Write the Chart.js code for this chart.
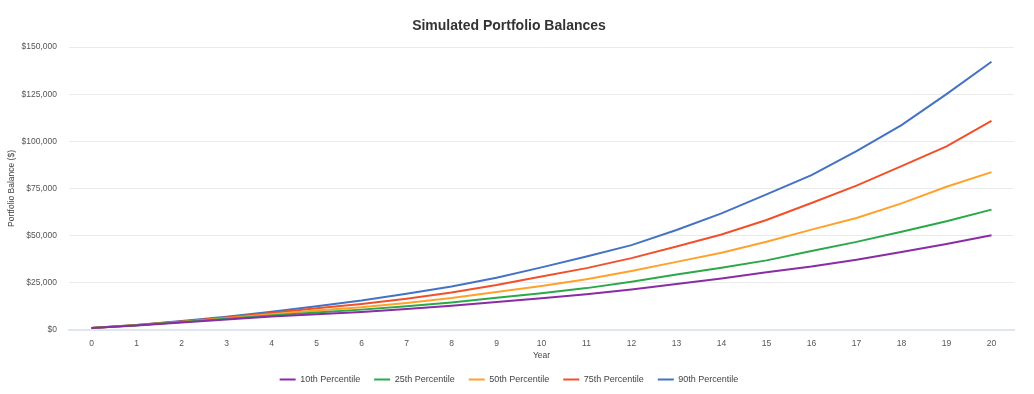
<!DOCTYPE html>
<html>
<head>
<meta charset="utf-8">
<script src="https://cdn.jsdelivr.net/npm/chart.js@4/dist/chart.umd.min.js"></script>
<style>
  html, body { margin: 0; padding: 0; background: #fff; }
  #wrap { width: 1034px; height: 394px; }
</style>
</head>
<body>
<div id="wrap"><canvas id="myChart"></canvas></div>
<script>
var years = [0, 1, 2, 3, 4, 5, 6, 7, 8, 9, 10, 11, 12, 13, 14, 15, 16, 17, 18, 19, 20];

var p10 = [1000, 2400, 4000, 5600, 7100, 8300, 9600, 11100, 12800, 14900, 16800, 19000, 21500, 24400, 27300, 30600, 33600, 37200, 41400, 45600, 50200];
var p25 = [1000, 2500, 4200, 5900, 7700, 9300, 10800, 12600, 14600, 17100, 19500, 22200, 25600, 29400, 33000, 36900, 41900, 46700, 52100, 57600, 63800];
var p50 = [1000, 2500, 4300, 6200, 8300, 10300, 12000, 14300, 16900, 20200, 23300, 26900, 31300, 36100, 40900, 46800, 53200, 59400, 67100, 75900, 83700];
var p75 = [1000, 2600, 4500, 6600, 9000, 11500, 13800, 16600, 19900, 23800, 28300, 32800, 38100, 44300, 50600, 58300, 67300, 76500, 86900, 97300, 110800];
var p90 = [1000, 2700, 4800, 7000, 9700, 12600, 15600, 19200, 23100, 27700, 33200, 39000, 45000, 53000, 61800, 71900, 82100, 94800, 108600, 125000, 142200];

var seriesNames = ["10th Percentile", "25th Percentile", "50th Percentile", "75th Percentile", "90th Percentile"];
var seriesColors = ["#8a2ca3", "#2ba84a", "#ffa12b", "#f0502a", "#4472c4"];
var seriesData = [p10, p25, p50, p75, p90];

var yTicks = { min: 0, max: 150000, step: 25000 };

Chart.defaults.font.family = "'Liberation Sans', Arial, sans-serif";
Chart.defaults.color = "#555";

var datasets = seriesNames.map(function (name, i) {
  return {
    label: name,
    data: seriesData[i],
    borderColor: seriesColors[i],
    backgroundColor: seriesColors[i],
    borderWidth: 2,
    pointRadius: 0,
    pointStyle: "line",
    tension: 0,
    fill: false
  };
});

new Chart("myChart", {
  type: "line",
  data: {
    labels: years,
    datasets: datasets
  },
  options: {
    responsive: true,
    maintainAspectRatio: false,
    animation: false,
    layout: {
      padding: { left: 4, right: 20, top: 6, bottom: 0 }
    },
    plugins: {
      title: {
        display: true,
        text: "Simulated Portfolio Balances",
        color: "#333",
        font: { size: 14, weight: "bold" },
        padding: { top: 11.6, bottom: 12.6 }
      },
      legend: {
        position: "bottom",
        labels: {
          usePointStyle: true,
          pointStyleWidth: 16,
          color: "#444",
          font: { size: 9 },
          padding: 14
        }
      },
      tooltip: { enabled: false }
    },
    scales: {
      x: {
        offset: true,
        grid: { display: false, drawTicks: false },
        border: { color: "#dfe6ef", width: 2 },
        ticks: { color: "#555", font: { size: 8.5 }, padding: 9 },
        title: {
          display: true,
          text: "Year",
          color: "#444",
          font: { size: 8.5 },
          padding: { top: 3, bottom: 0 }
        },
        afterFit: function (scale) { scale.height = 31; }
      },
      y: {
        min: yTicks.min,
        max: yTicks.max,
        grid: { color: "#ebebeb", lineWidth: 1, drawTicks: false },
        border: { display: false },
        ticks: {
          stepSize: yTicks.step,
          color: "#555",
          font: { size: 8.5 },
          padding: 12,
          callback: function (v) { return "$" + v.toLocaleString("en-US"); }
        },
        title: {
          display: true,
          text: "Portfolio Balance ($)",
          color: "#444",
          font: { size: 8.5 },
          padding: { top: 3, bottom: 4 }
        },
        afterFit: function (scale) { scale.width = 65; }
      }
    }
  }
});
</script>
</body>
</html>
